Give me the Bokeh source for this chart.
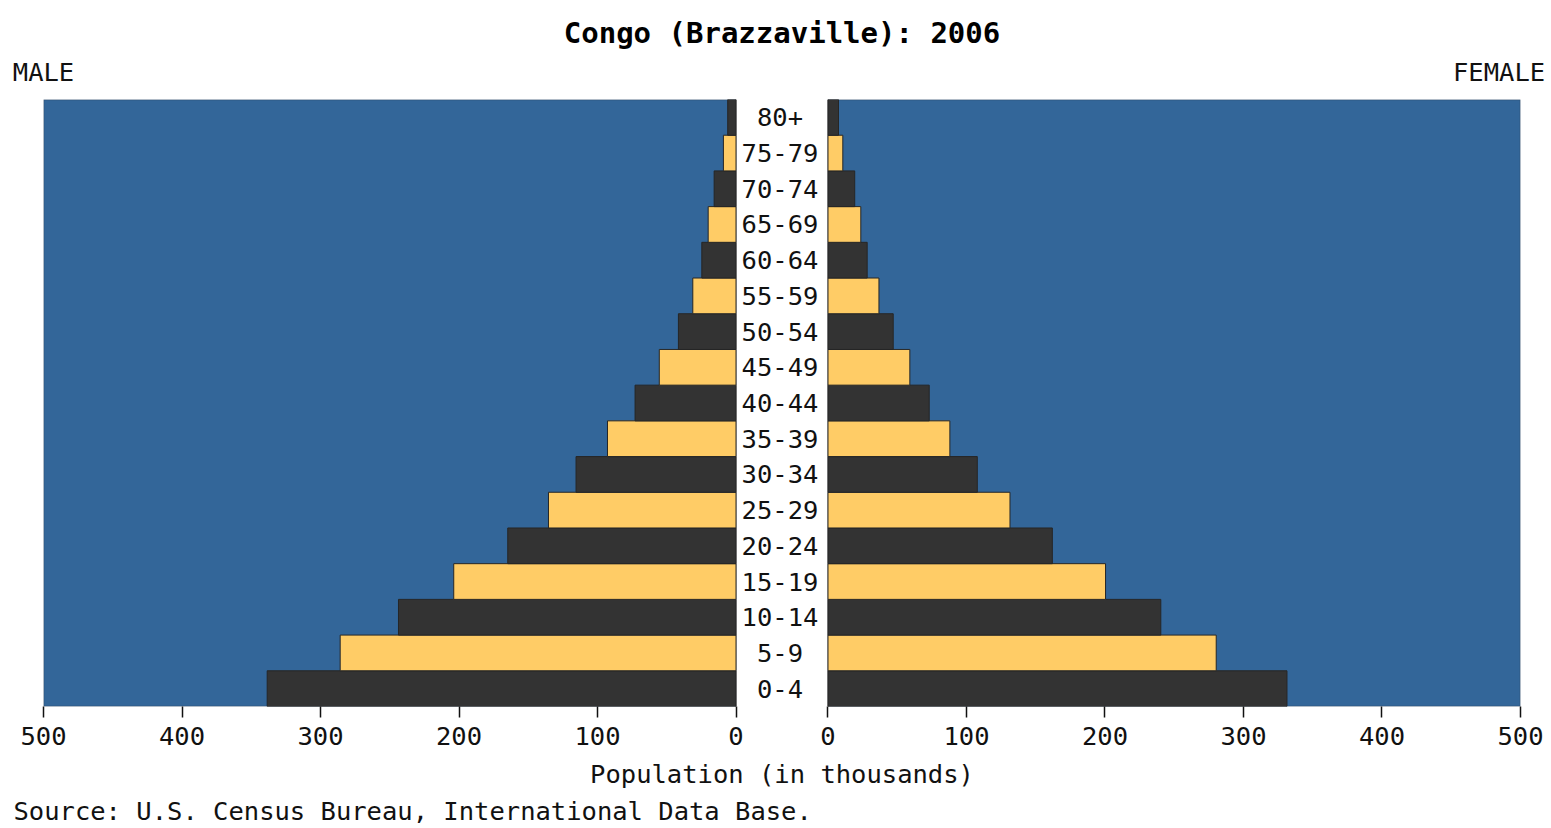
from bokeh.plotting import figure
from bokeh.models import (Range1d, FactorRange, FixedTicker, CustomJSTickFormatter,
                          BoxAnnotation, ColumnDataSource, LinearAxis, Title)
from bokeh.core.properties import value
from bokeh.embed import file_html
from bokeh.resources import INLINE

# ---- data ----
ages = ["0-4", "5-9", "10-14", "15-19", "20-24", "25-29", "30-34", "35-39",
        "40-44", "45-49", "50-54", "55-59", "60-64", "65-69", "70-74", "75-79", "80+"]
male = [338.5, 285.8, 243.7, 203.8, 164.8, 135.4, 115.5, 92.8, 72.9, 55.4,
        41.6, 31.2, 24.7, 20.1, 15.8, 9.1, 6.0]
female = [331.4, 280.3, 240.3, 200.4, 162.0, 131.4, 107.8, 88.0, 73.1, 59.1,
          47.1, 36.8, 28.3, 23.7, 19.3, 10.7, 7.6]
tick_values = [0, 100, 200, 300, 400, 500]
title_text = "Congo (Brazzaville): 2006"
male_label = "MALE"
female_label = "FEMALE"
xlabel = "Population (in thousands)"
source_text = "Source: U.S. Census Bureau, International Data Base."

# ---- styling ----
BLUE = "#336699"
DARK = "#333333"
YELLOW = "#FFCC66"
TXT = "#111111"
FONT = "DejaVu Sans Mono"
FS = "25.5px"
colors = [DARK if i % 2 == 0 else YELLOW for i in range(len(ages))]

W, H = 1551, 828
MAXV = 500
GAP = 66.4  # width of the central label column, in data units

p = figure(width=W, height=H, output_backend="svg", toolbar_location=None,
           x_range=Range1d(-MAXV - GAP, MAXV),
           y_range=FactorRange(factors=ages, range_padding=0),
           min_border_left=43, min_border_right=31,
           min_border_top=99, min_border_bottom=122)
p.extra_x_ranges = {"male": Range1d(MAXV, -MAXV - GAP)}

p.background_fill_color = "white"
p.border_fill_color = "white"
p.outline_line_color = None
p.grid.visible = False
p.yaxis.visible = False

# two blue panels
p.add_layout(BoxAnnotation(right=-GAP, fill_color=BLUE, fill_alpha=1,
                           line_color="#1a1a1a", line_width=1.5, level="underlay"))
p.add_layout(BoxAnnotation(left=0, fill_color=BLUE, fill_alpha=1,
                           line_color="#1a1a1a", line_width=1.5, level="underlay"))

src = ColumnDataSource(dict(age=ages, male=male, female=female, color=colors,
                            mid=[-GAP / 2] * len(ages)))
p.hbar(y="age", left=0, right="male", height=1, source=src, x_range_name="male",
       fill_color="color", line_color="#262626", line_width=1)
p.hbar(y="age", left=0, right="female", height=1, source=src,
       fill_color="color", line_color="#262626", line_width=1)

p.text(x="mid", y="age", text="age", source=src, text_align="center",
       text_baseline="middle", text_font=value(FONT), text_font_size=FS,
       text_color=TXT, x_offset=-2)

# bottom axis: male ticks (mirrored) + female ticks
ax = p.xaxis[0]
ax.ticker = FixedTicker(ticks=[-GAP - t for t in tick_values] + tick_values)
ax.formatter = CustomJSTickFormatter(args=dict(gap=GAP), code="""
    const v = tick < -1 ? (-tick - gap) : tick;
    return Math.round(v).toString();
""")
ax.axis_line_color = None
ax.major_tick_line_color = TXT
ax.major_tick_line_width = 1.5
ax.major_tick_in = 0
ax.major_tick_out = 11
ax.minor_tick_line_color = None
ax.major_label_standoff = 9
ax.major_label_text_font = FONT
ax.major_label_text_font_size = FS
ax.major_label_text_color = TXT
ax.axis_label = xlabel
ax.axis_label_text_font = FONT
ax.axis_label_text_font_size = FS
ax.axis_label_text_font_style = "normal"
ax.axis_label_text_color = TXT
ax.axis_label_standoff = 11

# top axis carrying the MALE / FEMALE side labels
top = LinearAxis(ticker=FixedTicker(ticks=[-MAXV - GAP, 484.5]),
                 formatter=CustomJSTickFormatter(
                     args=dict(m=male_label, f=female_label),
                     code="return tick < 0 ? m : f;"))
top.axis_line_color = None
top.major_tick_line_color = None
top.minor_tick_line_color = None
top.major_tick_in = 0
top.major_tick_out = 0
top.major_label_standoff = 13
top.major_label_text_font = FONT
top.major_label_text_font_size = FS
top.major_label_text_color = TXT
p.add_layout(top, "above")

p.title.text = title_text
p.title.align = "center"
p.title.offset = -5
p.title.text_font = FONT
p.title.text_font_size = "29px"
p.title.text_font_style = "bold"
p.title.text_color = "#000000"
p.title.standoff = 7

src_title = Title(text=source_text, align="left", offset=-30, standoff=4,
                  text_font=FONT, text_font_size=FS, text_font_style="normal",
                  text_color=TXT)
p.add_layout(src_title, "below")

open("out.html", "w").write(file_html(p, INLINE))
